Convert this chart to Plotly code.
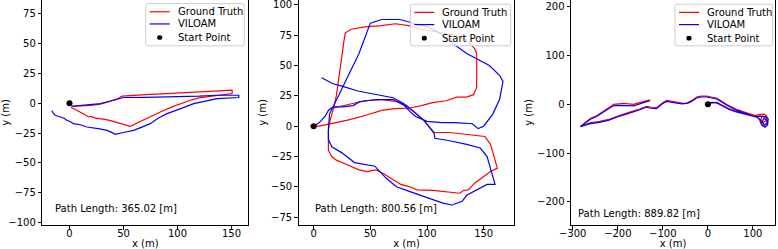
import plotly.graph_objects as go

# ---------------- data ----------------
# Panel 1 (Path length 365.02 m)
p1_gt_x = [2, 9.9, 20, 28.5, 36, 44, 48.6, 59.4, 75, 90.3, 105, 121.3, 135, 147.5, 150.6, 150.6, 145, 136.7, 128, 120, 112, 105, 95, 84.1, 75, 65, 56.3, 50, 44, 38, 33, 28.5, 24, 20, 17.7, 14, 9.9, 5, 1.3]
p1_gt_y = [-2.6, -2.5, -1.8, -0.8, 1.5, 3.4, 5.9, 6.7, 7.4, 8.1, 8.7, 9.5, 10.3, 10.9, 10.9, 8.1, 7.5, 6.7, 5.5, 4.5, 2.5, 0.5, -3, -7.3, -11.5, -15.5, -19.3, -17.5, -15.7, -14.5, -13.5, -12.9, -12.5, -11, -11.5, -9.5, -7.3, -5, -3.6]
p1_est_x = [1.8, 10, 20, 28.5, 36, 42.4, 50.1, 70, 90, 105.8, 120, 136.7, 150, 156.8, 156.8, 150, 136.7, 125, 115, 103, 90.3, 82, 74.8, 67, 59.4, 50, 42.4, 38, 34.7, 28, 22, 16.1, 10, 3.7, 1, -2.5, -5, -8.7, -11, -13.3, -14.5, -15.5, -16.4]
p1_est_y = [-2.5, -2, -1, -0.3, 1.5, 3.1, 4.8, 5, 5.2, 5.3, 6, 6.7, 7, 6.7, 4.8, 4.5, 3.9, 1.5, -0.3, -4.5, -8.7, -12.5, -17.1, -20, -22.7, -24.5, -26.1, -24, -22.7, -21.5, -20.5, -19.9, -18, -17.1, -15.5, -14.3, -12.5, -11.5, -11, -10.1, -9, -7.3, -6.2]

# Panel 2 (Path length 800.56 m)
p2_gt_x = [-3, 0, 5, 10, 17, 30, 46, 60, 72, 85, 95, 105, 117, 126, 135, 141, 143.8, 144, 143.8, 142, 135, 125, 112, 105, 95, 84, 72, 60, 45, 33, 28, 27, 24, 20, 17, 14, 13, 13, 13, 16, 20, 25, 30, 35, 40, 47, 55, 61, 70, 77, 85, 91, 105, 115, 120, 129, 132, 136.5, 142, 148, 152, 156, 162, 160, 158.5, 156, 151, 135, 120, 105.6, 102, 97, 90, 82, 75, 60, 45, 35, 25, 17]
p2_gt_y = [0.5, 0, 0, 1, 2.5, 5, 9, 13, 14.5, 15, 17, 19.5, 21, 24, 24, 26, 32, 45, 60, 64, 71, 75, 77, 78, 80, 83, 84.5, 83, 82, 80, 77, 72, 50, 25, 13, 3, -3, -12, -20, -25, -28, -30, -32, -34.6, -36, -37.4, -36, -38.8, -44.3, -48, -50, -52.5, -53, -54, -54, -55.3, -53, -52.5, -47, -43, -40, -37.4, -34.6, -28, -22, -15, -8.5, -7, -5.2, -5.2, -1, 5, 11, 17, 20, 22, 21, 19, 17, 15]
p2_est_x = [0, 5, 10, 13, 17, 25, 35, 40, 55, 70, 80, 85, 90, 100, 113, 125, 140, 145, 150, 158, 164, 167, 164, 155, 135, 123, 111, 100, 76, 60, 50, 40, 26, 14, 13, 13, 16, 25, 36, 47, 54, 64, 73, 85, 94, 106, 114, 122, 131, 135, 145, 153, 160, 156, 153, 147, 135, 120, 107, 106, 97, 88, 79, 70, 55, 39, 25, 17, 7]
p2_est_y = [0, 3, 8, 13, 16, 16, 17, 20, 22, 22, 17, 12, 8, 4, 3, 3, 2, -2, 0, 10, 22, 37, 42, 50, 60, 68, 77, 82, 88, 88, 85, 60, 33, 10, -3, -11, -17, -22, -30, -32, -33, -43, -50, -54, -57, -61, -63.5, -65, -62, -57, -52, -48, -48, -36, -25, -18, -15, -12, -10, -5, 5, 12, 19, 23.5, 26.3, 29, 33, 35, 40]

# Panel 3 (Path length 889.82 m)
p3_gt_x = [0, 8, 20, 32, 45, 60, 75, 90, 103, 115, 125, 131, 130, 123, 117, 121, 129, 131, 126, 118, 114, 108, 93, 78, 63, 50, 41, 30, 19, 8, -3, -15, -25, -32, -40, -45, -55, -70, -84, -91, -100, -108, -114, -125, -136, -150, -165, -180, -200, -220, -240, -262, -282, -270, -261, -246, -231, -220, -209, -198, -187, -176, -165, -158, -146, -137, -128]
p3_gt_y = [0, 3, 4, -2, -8, -13, -17, -21, -23, -21, -20, -24, -33, -37, -31, -25, -28, -38, -44, -40, -30, -24, -20, -15, -10, -4, 0, 7, 13, 15, 17, 17, 15, 10, 6, 3, 2, 4, 7, 8, 3, -3, -7, -6, -4, -9, -13, -18, -24, -31, -35, -38, -45, -36, -29, -23, -13, -6, 0, 1, 2, 1, 0, 2, 5, 7, 9]
p3_est_x = [0, 10, 20, 33, 46, 61, 76, 91, 104, 117, 128, 134, 133, 126, 120, 124, 132, 133, 127, 120, 117, 110, 95, 80, 64, 51, 42, 31, 20, 8, -3, -15, -25, -33, -40, -47, -57, -72, -86, -92, -101, -109, -114, -126, -137, -151, -166, -181, -201, -221, -241, -263, -283, -271, -262, -247, -232, -221, -210, -199, -188, -176, -165, -158, -147, -138, -129]
p3_est_y = [3, 4, 3, -4, -10, -15, -19, -23, -25, -24, -25, -30, -38, -42, -36, -29, -33, -42, -47, -43, -33, -27, -23, -18, -12, -6, -2, 5, 11, 13, 15, 15, 13, 8, 4, 2, 1, 3, 5, 6, 1, -5, -9, -8, -6, -11, -15, -20, -26, -33, -37, -40, -46, -38, -31, -25, -16, -9, -3, -2, -2, -3, -3, -1, 3, 5, 7]

start_x = [0]
start_y = [0]
path_lengths = ["365.02", "800.56", "889.82"]
series_names = ["Ground Truth", "VILOAM", "Start Point"]
series_colors = ["red", "blue", "black"]

# ---------------- figure ----------------
W, H = 778, 249
FONT = "DejaVu Sans"
fig = go.Figure()

panels = [
    (p1_gt_x, p1_gt_y, p1_est_x, p1_est_y),
    (p2_gt_x, p2_gt_y, p2_est_x, p2_est_y),
    (p3_gt_x, p3_gt_y, p3_est_x, p3_est_y),
]
x_px = [(42.3, 248.3), (298.7, 514.3), (571, 775)]
x_ranges = [(-25.2, 165.6), (-13.2, 177.0), (-303.8, 149)]
y_ranges = [(-102.0, 86.5), (-81.5, 104.1), (-247.5, 214)]
x_dticks = [50, 50, 100]
y_dticks = [25, 25, 100]
legend_boxes = [(145.7, 4, 244.3, 50.7), (410.3, 4.7, 510.7, 50.7), (675, 4.7, 772.7, 50.7)]
legend_rows = [13, 26.5, 41.5]
text_pos = [(53.3, 208), (313.0, 208), (575.7, 213)]

bottom_px = 225
plot_h = bottom_px


def px(xp):
    return xp / W


def py(yp):
    return 1 - yp / H


layout = dict(
    width=W, height=H,
    margin=dict(l=0, r=0, t=0, b=H - bottom_px),
    paper_bgcolor="white", plot_bgcolor="white",
    font=dict(family=FONT, size=10, color="black"),
    showlegend=False,
)

annotations = []
shapes = []
for i, (gx, gy, ex, ey) in enumerate(panels):
    n = "" if i == 0 else str(i + 1)
    xa, ya = "x" + n, "y" + n
    fig.add_trace(go.Scatter(x=gx, y=gy, mode="lines", name=series_names[0],
                             line=dict(color=series_colors[0], width=1.2), xaxis=xa, yaxis=ya))
    fig.add_trace(go.Scatter(x=ex, y=ey, mode="lines", name=series_names[1],
                             line=dict(color=series_colors[1], width=1.2), xaxis=xa, yaxis=ya))
    fig.add_trace(go.Scatter(x=start_x, y=start_y, mode="markers", name=series_names[2],
                             marker=dict(color=series_colors[2], size=6), xaxis=xa, yaxis=ya))

    axis_common = dict(showline=True, linecolor="black", linewidth=1, mirror=True,
                       ticks="outside", ticklen=3.5, tickcolor="black", tickwidth=1,
                       showgrid=False, zeroline=False, ticklabeloverflow="allow",
                       tickfont=dict(family=FONT, size=10, color="black"),
                       automargin=False)
    layout["xaxis" + n] = dict(axis_common, domain=[px(x_px[i][0]), px(x_px[i][1])],
                               range=list(x_ranges[i]), ticklabelstandoff=-5,
                               dtick=x_dticks[i], tick0=0, anchor=ya,
                               title=dict(text="x (m)", standoff=3,
                                          font=dict(family=FONT, size=10, color="black")))
    layout["yaxis" + n] = dict(axis_common, domain=[0, 1], range=list(y_ranges[i]),
                               dtick=y_dticks[i], tick0=0, anchor=xa,
                               title=dict(text="y (m)", standoff=2,
                                          font=dict(family=FONT, size=10, color="black")))

    # legend (matplotlib-style box drawn in paper coordinates)
    L, T, R, B = legend_boxes[i]
    r = 2.5
    path = ("M {a},{b} L {c},{b} Q {R},{b} {R},{d} L {R},{e} Q {R},{f} {c},{f} "
            "L {a},{f} Q {L},{f} {L},{e} L {L},{d} Q {L},{b} {a},{b} Z").format(
        a=px(L + r), b=py(T), c=px(R - r), R=px(R), d=py(T + r), e=py(B - r), f=py(B), L=px(L))
    shapes.append(dict(type="path", xref="paper", yref="paper", path=path,
                       fillcolor="rgba(255,255,255,0.8)", line=dict(color="#cccccc", width=1),
                       layer="above"))
    x0, x1 = L + 4, L + 24
    for k, yrow in enumerate(legend_rows):
        yrow = yrow + (T - 4)
        if k < 2:
            shapes.append(dict(type="line", xref="paper", yref="paper",
                               x0=px(x0), x1=px(x1), y0=py(yrow), y1=py(yrow),
                               line=dict(color=series_colors[k], width=1.2), layer="above"))
        else:
            cx, cy, rr = (x0 + x1) / 2, yrow, 2.6
            shapes.append(dict(type="circle", xref="paper", yref="paper",
                               x0=px(cx - rr), x1=px(cx + rr), y0=py(cy + rr), y1=py(cy - rr),
                               fillcolor="black", line=dict(color="black", width=0), layer="above"))
        annotations.append(dict(text=series_names[k], xref="paper", yref="paper",
                                x=px(L + 30), y=py(yrow), xanchor="left", yanchor="middle",
                                showarrow=False, font=dict(family=FONT, size=10, color="black")))

    tx, ty = text_pos[i]
    annotations.append(dict(text="Path Length: %s [m]" % path_lengths[i],
                            xref="x%s domain" % n, yref="y%s domain" % n,
                            x=(tx - x_px[i][0]) / (x_px[i][1] - x_px[i][0]),
                            y=(plot_h - ty) / plot_h,
                            xanchor="left", yanchor="middle", showarrow=False,
                            font=dict(family=FONT, size=10, color="black")))

layout["annotations"] = annotations
layout["shapes"] = shapes
fig.update_layout(**layout)
fig.write_html("out.html", config={"displayModeBar": False},
               post_script="document.body.style.margin='0';document.body.style.overflow='hidden';")
